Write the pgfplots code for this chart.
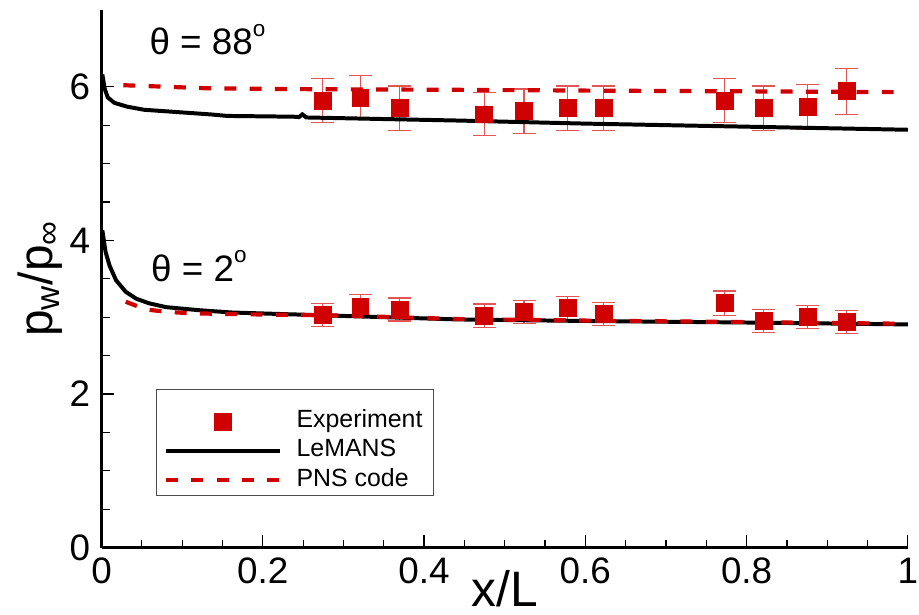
\documentclass[border=0pt]{standalone}
\usepackage{pgfplots}
\pgfplotsset{compat=1.18}
\usepackage{fontspec}
\setmainfont{Liberation Sans}
\definecolor{cRed}{RGB}{208,0,0}
\definecolor{eRed}{RGB}{225,85,85}
\newcommand{\dego}{\raisebox{9.2pt}{\fontsize{11.3}{12}\selectfont o}}
\begin{document}
\begin{tikzpicture}
\begin{axis}[name=ax, scale only axis, width=405pt, height=270pt,
  xmin=0, xmax=1, ymin=0, ymax=7,
  axis x line*=bottom, axis y line*=left,
  axis line style={line width=1.2pt, black},
  xtick={0,0.2,0.4,0.6,0.8,1}, ytick={0,2,4,6},
  minor x tick num=3, minor y tick num=3,
  tick align=inside, major tick length=6.5pt, minor tick length=4pt,
  every tick/.style={black, line width=0.6pt},
  /pgf/number format/assume math mode=true,
  tick label style={font=\fontsize{18.5}{20}\selectfont, inner sep=0pt},
  xticklabel style={yshift=-5pt},
  yticklabel style={xshift=-5.6pt},
  every axis x label/.style={at={(axis description cs:0.5,-0.042)}, anchor=north, inner sep=0pt, font=\fontsize{25}{28}\selectfont},
  every axis y label/.style={at={(axis description cs:-0.048,0.5)}, rotate=90, anchor=south, inner sep=0pt, font=\fontsize{24}{28}\selectfont},
  xlabel={x/L}, ylabel={p\textsubscript{w}/p\textsubscript{∞}},
  legend image code/.code={\draw[mark repeat=2,mark phase=2,#1] plot coordinates {(0pt,0pt) (28.5pt,0pt) (57pt,0pt)};},
  legend style={draw=none, fill=none, at={(axis cs:0.077,1.80)}, anchor=north west, inner sep=0pt, row sep=2.75pt, column sep=7.5pt,
    nodes={inner sep=0pt, text height=9pt, text depth=3pt, font=\fontsize{12.5}{15}\selectfont}},
  legend cell align=left,
  exp/.style={only marks, mark=square*, mark size=4.25pt, mark options={draw=cRed, fill=cRed},
    /pgfplots/error bars/y dir=both, /pgfplots/error bars/y explicit,
    /pgfplots/error bars/error bar style={line width=0.6pt, eRed},
    /pgfplots/error bars/error mark options={rotate=90, line width=0.6pt, eRed, mark size=5.75pt}},
  lem/.style={black, line width=2pt, no marks},
  pns/.style={cRed, line width=2.1pt, no marks, dash pattern=on 6pt off 6.7pt},
]
\draw[black!70, line width=0.6pt] (axis cs:0.068,2.06) rectangle (axis cs:0.412,0.674);

\addplot[exp] table[x=x, y=y, y error=e] {
x y e
0.274 5.82 0.29
0.321 5.86 0.29
0.370 5.72 0.29
0.4745 5.64 0.28
0.524 5.68 0.29
0.578 5.72 0.29
0.623 5.72 0.29
0.773 5.82 0.29
0.821 5.72 0.29
0.876 5.74 0.29
0.924 5.94 0.30
};
\addlegendentry{Experiment}
\addplot[forget plot, exp] table[x=x, y=y, y error=e] {
x y e
0.274 3.03 0.15
0.321 3.14 0.15
0.370 3.10 0.15
0.4745 3.02 0.15
0.524 3.07 0.15
0.578 3.12 0.15
0.623 3.04 0.15
0.773 3.18 0.16
0.821 2.95 0.15
0.876 3.00 0.15
0.924 2.94 0.15
};

\addplot[lem] coordinates {
(0.001,6.16) (0.004,5.97) (0.0078,5.86) (0.016,5.79) (0.032,5.74) (0.053,5.70)
(0.094,5.67) (0.135,5.64) (0.156,5.62) (0.238,5.61) (0.245,5.605) (0.249,5.64) (0.254,5.60)
(0.442,5.56) (0.6,5.52) (0.8,5.48) (1.0,5.44)
};
\addlegendentry{LeMANS}
\addplot[forget plot, lem] coordinates {
(0.001,4.13) (0.005,3.85) (0.01,3.67) (0.018,3.48) (0.03,3.33) (0.043,3.24)
(0.059,3.18) (0.08,3.13) (0.121,3.09) (0.162,3.06) (0.286,3.02) (0.442,2.97)
(0.6,2.95) (0.8,2.93) (1.0,2.905)
};

\addplot[pns] coordinates {
(0.027,6.02) (0.08,6.00) (0.13,5.98) (0.225,5.97) (0.442,5.96) (0.6,5.95) (0.8,5.94) (0.985,5.93)
};
\addlegendentry{PNS code}
\addplot[forget plot, pns] coordinates {
(0.03,3.20) (0.055,3.10) (0.08,3.07) (0.11,3.05) (0.16,3.04) (0.3,3.02) (0.442,2.975)
(0.6,2.955) (0.8,2.935) (0.985,2.915)
};

\node[anchor=base west, inner sep=0pt, font=\fontsize{18.5}{20}\selectfont] at (axis cs:0.059,6.42) {θ = 88\dego};
\node[anchor=base west, inner sep=0pt, font=\fontsize{18.5}{20}\selectfont] at (axis cs:0.061,3.467) {θ = 2\dego};
\end{axis}
\pgfresetboundingbox
\path[use as bounding box] ([shift={(-51pt,-33.5pt)}]ax.south west) rectangle ([shift={(5.6pt,5pt)}]ax.north east);
\end{tikzpicture}
\end{document}
